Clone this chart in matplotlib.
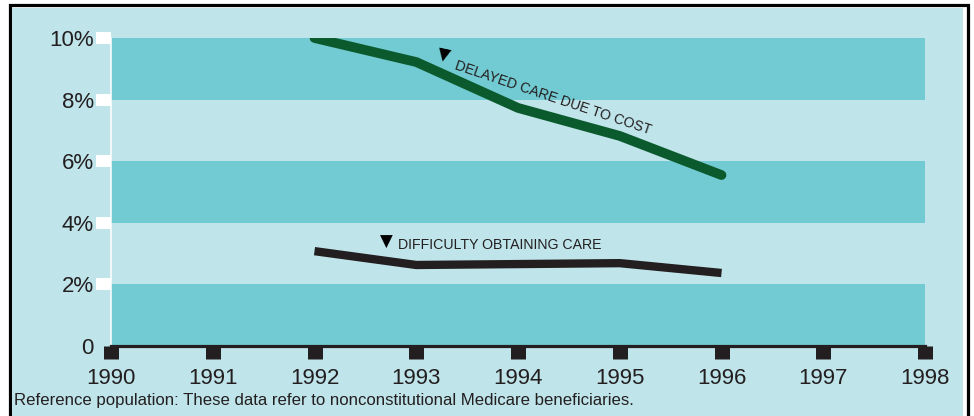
import matplotlib
matplotlib.use("Agg")
import matplotlib.pyplot as plt
from matplotlib.patches import Rectangle

# ---- data ----
years = [1990, 1991, 1992, 1993, 1994, 1995, 1996, 1997, 1998]
year_labels = ["1990", "1991", "1992", "1993", "1994", "1995", "1996", "1997", "1998"]
series_years = [1992, 1993, 1994, 1995, 1996]
delayed_care = [10.0, 9.22, 7.73, 6.82, 5.55]
difficulty_care = [3.08, 2.63, 2.66, 2.69, 2.37]
y_ticks = [0, 2, 4, 6, 8, 10]
y_labels = ["0", "2%", "4%", "6%", "8%", "10%"]
bands = [(0, 2), (4, 6), (8, 10)]
label_delayed = "DELAYED CARE DUE TO COST"
label_difficulty = "DIFFICULTY OBTAINING CARE"
footnote = "Reference population: These data refer to nonconstitutional Medicare beneficiaries."

LIGHT = "#BFE4EA"
DARK = "#72CBD2"
GREEN = "#0B5A2D"
INK = "#231F20"

plt.rcParams["font.family"] = ["Liberation Sans", "DejaVu Sans"]

W, H = 974, 416
fig = plt.figure(figsize=(W / 100, H / 100), dpi=100)
fig.patch.set_facecolor("white")

# outer frame
fig.patches.append(Rectangle((9.5 / W, -0.05), 958 / W, 1.05 - 5.5 / H,
                             transform=fig.transFigure, facecolor="white",
                             edgecolor="black", linewidth=2.3, zorder=0))
fig.patches.append(Rectangle((11.5 / W, -0.05), 951.5 / W, 1.05 - 8 / H,
                             transform=fig.transFigure, facecolor=LIGHT,
                             edgecolor="none", zorder=0.5))

ax = fig.add_axes([111 / W, 70 / H, 814 / W, 308 / H])
ax.set_zorder(2)
ax.set_facecolor(LIGHT)
ax.set_xlim(years[0], years[-1])
ax.set_ylim(0, 10)

for lo, hi in bands:
    ax.axhspan(lo, hi, color=DARK, zorder=0, lw=0)

# lines
ax.plot(series_years, delayed_care, color=GREEN, lw=7,
        solid_capstyle="round", solid_joinstyle="round", zorder=3)
ax.plot(series_years, difficulty_care, color=INK, lw=6,
        solid_capstyle="butt", solid_joinstyle="miter", zorder=3)

# annotations
ax.text(1993.27, 9.42, "\u25BC", fontsize=12, color="black", rotation=-12,
        ha="center", va="center", family=["DejaVu Sans"], zorder=4)
ax.text(1993.38, 9.12, label_delayed, fontsize=10.1, color=INK, rotation=-18.5,
        rotation_mode="anchor", ha="left", va="center", zorder=4)
ax.text(1992.71, 3.38, "\u25BC", fontsize=12, color="black",
        ha="center", va="center", family=["DejaVu Sans"], zorder=4)
ax.text(1992.82, 3.28, label_difficulty, fontsize=10.2, color=INK,
        ha="left", va="center", zorder=4)

# axes styling
for s in ("top", "right"):
    ax.spines[s].set_visible(False)
ax.spines["left"].set_color("white")
ax.spines["left"].set_linewidth(1.1)
ax.spines["bottom"].set_color(INK)
ax.spines["bottom"].set_linewidth(2.3)
ax.spines["bottom"].set_zorder(5)

ax.set_xticks(years)
ax.set_xticklabels(year_labels)
ax.set_yticks(y_ticks)
ax.set_yticklabels(y_labels)
ax.tick_params(axis="x", direction="out", length=9, width=10.8, color=INK,
               labelsize=16, labelcolor=INK, pad=6.5)
ax.tick_params(axis="y", direction="out", length=10.5, width=8.6, color="white",
               labelsize=16, labelcolor=INK, pad=2)
ax.yaxis.get_major_ticks()[0].tick1line.set_visible(False)
for t in ax.xaxis.get_major_ticks():
    t.tick1line.set_zorder(6)

fig.text(14 / W, 1 - 401 / H, footnote, fontsize=12.1, color=INK,
         ha="left", va="center", zorder=3)

fig.savefig("out.png", dpi=100, facecolor=fig.get_facecolor())
